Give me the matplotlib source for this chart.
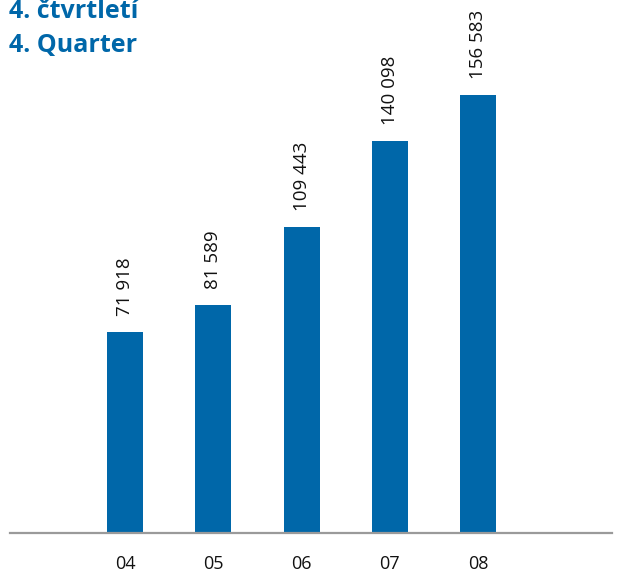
import matplotlib.pyplot as plt

# data
years = ['04', '05', '06', '07', '08']
values = [71918, 81589, 109443, 140098, 156583]
value_labels = ['71 918', '81 589', '109 443', '140 098', '156 583']

blue = '#0067a9'

plt.rcParams['font.family'] = ['Open Sans', 'DejaVu Sans']

fig = plt.figure(figsize=(6.22, 5.73), dpi=100)
# axes spans from the grey base line (y=533 px) to the top of the figure
ax = fig.add_axes([10 / 622, 40 / 573, 602 / 622, 533 / 573])

x = range(len(years))
ax.bar(x, values, width=0.408, color=blue)

# value labels above the bars
for xi, v, lab in zip(x, values, value_labels):
    ax.annotate(lab, (xi, v), xytext=(0, 11.5), textcoords='offset points',
                rotation=90, ha='center', va='bottom', fontsize=13.5,
                color='#111111', annotation_clip=False)

ax.set_xlim(-1.303, 5.518)
ax.set_ylim(0, 533 / 0.0028)
ax.set_xticks(list(x))
ax.set_xticklabels(years, fontsize=13, color='#111111')
ax.tick_params(axis='x', length=0, pad=16)
ax.set_yticks([])

for s in ['top', 'left', 'right']:
    ax.spines[s].set_visible(False)
ax.spines['bottom'].set_color('#9a9a9a')
ax.spines['bottom'].set_linewidth(1.6)

# title in two languages
fig.text(9 / 622, 1 - 18 / 573, '4. čtvrtletí', fontsize=18, fontweight='bold',
         color=blue, ha='left', va='baseline')
fig.text(9 / 622, 1 - 52 / 573, '4. Quarter', fontsize=18, fontweight='bold',
         color=blue, ha='left', va='baseline')

fig.savefig('out.png', dpi=100)
